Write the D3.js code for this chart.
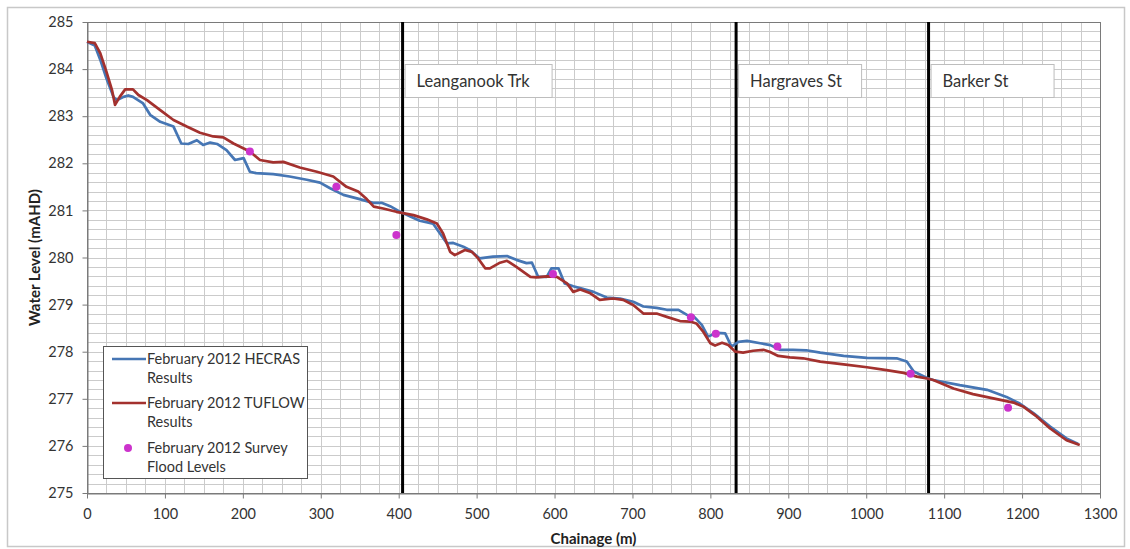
<!DOCTYPE html>
<html>
<head>
<meta charset="utf-8">
<script src="https://cdn.jsdelivr.net/npm/d3@7/dist/d3.min.js"></script>
<style>
  html, body { margin: 0; padding: 0; background: #fff; }
  svg { display: block; font-family: Lato, "Open Sans", sans-serif; }
</style>
</head>
<body>
<svg id="chart" width="1130" height="549"></svg>
<script>
// Modelled water surface profiles, February 2012 event: [chainage (m), level (mAHD)]
const hecras = [
  [0,284.58],[10,284.50],[17,284.20],[25,283.80],[34,283.41],[38,283.34],[47,283.41],[53,283.44],
  [59,283.41],[72,283.27],[81,283.03],[94,282.88],[111,282.78],[121,282.42],[130,282.41],[141,282.49],
  [149,282.39],[158,282.44],[167,282.41],[179,282.28],[190,282.07],[201,282.11],[209,281.82],[217,281.79],
  [239,281.77],[260,281.72],[282,281.65],[299,281.59],[312,281.47],[329,281.33],[350,281.24],[367,281.16],
  [378,281.16],[389,281.09],[402,280.97],[415,280.87],[427,280.78],[444,280.72],[453,280.51],[462,280.30],
  [470,280.31],[483,280.23],[491,280.16],[504,279.98],[521,280.02],[539,280.03],[551,279.95],[564,279.88],
  [571,279.89],[579,279.59],[590,279.59],[596,279.77],[605,279.77],[613,279.45],[624,279.39],[635,279.34],
  [650,279.27],[667,279.15],[684,279.13],[701,279.06],[714,278.96],[731,278.93],[744,278.89],[759,278.89],
  [770,278.78],[778,278.76],[789,278.57],[797,278.32],[808,278.40],[819,278.39],[827,278.11],[836,278.21],
  [847,278.23],[864,278.18],[877,278.14],[889,278.04],[906,278.04],[923,278.03],[941,277.98],[971,277.91],
  [1001,277.87],[1039,277.86],[1052,277.79],[1061,277.58],[1078,277.44],[1086,277.40],[1120,277.29],
  [1155,277.19],[1180,277.04],[1197,276.90],[1215,276.69],[1236,276.41],[1257,276.16],[1272,276.04]
];

const tuflow = [
  [0,284.58],[10,284.55],[17,284.34],[25,283.94],[32,283.56],[36,283.24],[42,283.41],[49,283.57],
  [59,283.57],[66,283.45],[77,283.34],[94,283.13],[111,282.92],[128,282.78],[145,282.65],[162,282.57],
  [175,282.55],[188,282.42],[209,282.25],[222,282.07],[239,282.02],[252,282.03],[273,281.91],[295,281.82],
  [316,281.72],[333,281.50],[348,281.40],[359,281.24],[368,281.08],[380,281.04],[397,280.97],[419,280.90],
  [436,280.81],[449,280.72],[457,280.51],[466,280.12],[472,280.05],[485,280.16],[494,280.12],[502,279.98],
  [511,279.77],[517,279.77],[530,279.89],[539,279.93],[551,279.80],[569,279.59],[577,279.58],[590,279.60],
  [603,279.59],[616,279.45],[624,279.27],[633,279.32],[646,279.24],[658,279.10],[675,279.13],[688,279.10],
  [701,278.99],[714,278.81],[731,278.81],[744,278.74],[761,278.65],[774,278.64],[782,278.60],[791,278.42],
  [800,278.18],[806,278.13],[815,278.19],[823,278.14],[832,278.00],[842,277.98],[855,278.02],[868,278.04],
  [876,278.00],[887,277.91],[902,277.88],[919,277.86],[941,277.79],[971,277.73],[1001,277.67],[1026,277.61],
  [1048,277.55],[1065,277.47],[1078,277.43],[1086,277.40],[1112,277.22],[1137,277.10],[1163,277.01],
  [1189,276.92],[1202,276.83],[1219,276.62],[1236,276.37],[1257,276.12],[1274,276.02]
];

// Surveyed flood marks
const survey = [
  [209,282.25],[320,281.50],[397,280.48],[598,279.65],[775,278.73],[807,278.38],[886,278.11],
  [1057,277.53],[1182,276.81]
];

// Road crossings along the reach
const crossingNames = ["Leanganook Trk", "Hargraves St", "Barker St"];
const crossingChainage = [405, 833, 1080];

// Axis ticks
const xTicks = [0,100,200,300,400,500,600,700,800,900,1000,1100,1200,1300];
const yTicks = [275,276,277,278,279,280,281,282,283,284,285];

const seriesNames = ["February 2012 HECRAS|Results", "February 2012 TUFLOW|Results", "February 2012 Survey|Flood Levels"];

// ---- layout ----
const plot = { left: 87, right: 1100, top: 22, bottom: 493 };
const colors = { hecras: "#4676b4", tuflow: "#a3312e", survey: "#cc33cc" };
const crossingBoxWidths = [147, 123, 123];

const svg = d3.select("#chart");

const x = d3.scaleLinear().domain([0, 1300]).range([plot.left, plot.right]);
const y = d3.scaleLinear().domain([275, 285]).range([plot.bottom, plot.top]);

// chart area frame
svg.append("rect")
  .attr("x", 7.5).attr("y", 7.5).attr("width", 1117).attr("height", 539)
  .attr("fill", "#fff").attr("stroke", "#c8c8c8").attr("stroke-width", 1.5);

// gridlines: every 25 m and every 0.2 m
const gx = d3.range(25, 1300, 25);
const gy = d3.range(275.2, 284.99, 0.2);
const grid = svg.append("g").attr("stroke", "#cbcbcb").attr("stroke-width", 1);
grid.selectAll("line.v").data(gx).join("line").attr("class", "v")
  .attr("x1", d => Math.round(x(d)) + 0.5).attr("x2", d => Math.round(x(d)) + 0.5)
  .attr("y1", plot.top).attr("y2", plot.bottom);
grid.selectAll("line.h").data(gy).join("line").attr("class", "h")
  .attr("y1", d => Math.round(y(d)) + 0.5).attr("y2", d => Math.round(y(d)) + 0.5)
  .attr("x1", plot.left).attr("x2", plot.right);

// plot frame
svg.append("rect")
  .attr("x", plot.left + 0.5).attr("y", plot.top + 0.5)
  .attr("width", plot.right - plot.left).attr("height", plot.bottom - plot.top)
  .attr("fill", "none").attr("stroke", "#7a7a7a").attr("stroke-width", 1);

// axes
const xAxis = d3.axisBottom(x).tickValues(xTicks).tickFormat(d3.format("d"))
  .tickSize(5).tickSizeOuter(0).tickPadding(10);
const yAxis = d3.axisLeft(y).tickValues(yTicks).tickFormat(d3.format("d"))
  .tickSize(5).tickSizeOuter(0).tickPadding(9);

const gX = svg.append("g").attr("transform", `translate(0,${plot.bottom + 0.5})`).call(xAxis);
const gY = svg.append("g").attr("transform", `translate(${plot.left + 0.5},0)`).call(yAxis);
[gX, gY].forEach(g => {
  g.select(".domain").attr("stroke", "#7a7a7a");
  g.selectAll(".tick line").attr("stroke", "#7a7a7a");
  g.selectAll(".tick text").attr("fill", "#333").style("font-size", "14.5px")
    .style("font-family", "Lato, sans-serif");
});

// axis titles
svg.append("text")
  .attr("x", (plot.left + plot.right) / 2).attr("y", 544)
  .attr("text-anchor", "middle").attr("font-weight", "bold").attr("font-size", 15)
  .attr("fill", "#222").text("Chainage (m)");
svg.append("text")
  .attr("transform", `translate(40,${(plot.top + plot.bottom) / 2}) rotate(-90)`)
  .attr("text-anchor", "middle").attr("font-weight", "bold").attr("font-size", 15)
  .attr("fill", "#222").text("Water Level (mAHD)");

// crossing markers
const crossings = crossingNames.map((n, i) => ({ name: n, ch: crossingChainage[i], w: crossingBoxWidths[i] }));
svg.append("g").selectAll("line").data(crossings).join("line")
  .attr("x1", d => x(d.ch)).attr("x2", d => x(d.ch))
  .attr("y1", plot.top).attr("y2", plot.bottom)
  .attr("stroke", "#000").attr("stroke-width", 3);

const boxes = svg.append("g").selectAll("g").data(crossings).join("g")
  .attr("transform", d => `translate(${x(d.ch) + 2},64)`);
boxes.append("rect").attr("x", 0.5).attr("y", 0.5).attr("width", d => d.w).attr("height", 33)
  .attr("fill", "#fff").attr("stroke", "#bdbdbd").attr("stroke-width", 1);
boxes.append("text").attr("x", 12).attr("y", 23).attr("font-size", 16.5)
  .attr("fill", "#333").text(d => d.name);

// profiles
const line = d3.line().x(d => x(d[0])).y(d => y(d[1]));
svg.append("path").datum(hecras).attr("d", line)
  .attr("fill", "none").attr("stroke", colors.hecras).attr("stroke-width", 2.7)
  .attr("stroke-linejoin", "round");
svg.append("path").datum(tuflow).attr("d", line)
  .attr("fill", "none").attr("stroke", colors.tuflow).attr("stroke-width", 2.7)
  .attr("stroke-linejoin", "round");

// survey marks
svg.append("g").selectAll("circle").data(survey).join("circle")
  .attr("cx", d => x(d[0])).attr("cy", d => y(d[1])).attr("r", 4)
  .attr("fill", colors.survey);

// legend
const legend = svg.append("g").attr("transform", "translate(103,346)");
legend.append("rect").attr("x", 0.5).attr("y", 0.5).attr("width", 204).attr("height", 132)
  .attr("fill", "#fff").attr("stroke", "#555").attr("stroke-width", 1);
const rowY = [13, 57, 102];
const symbols = ["hecras", "tuflow", "survey"];
seriesNames.forEach((name, i) => {
  const r = legend.append("g").attr("transform", `translate(0,${rowY[i]})`);
  if (symbols[i] === "survey") {
    r.append("circle").attr("cx", 25).attr("cy", 0).attr("r", 4).attr("fill", colors.survey);
  } else {
    r.append("line").attr("x1", 9).attr("x2", 43).attr("y1", 0).attr("y2", 0)
      .attr("stroke", colors[symbols[i]]).attr("stroke-width", 2.7);
  }
  const t = r.append("text").attr("x", 44).attr("y", 5).attr("font-size", 14.5).attr("fill", "#333");
  name.split("|").forEach((part, j) => {
    t.append("tspan").attr("x", 44).attr("dy", j === 0 ? 0 : 19).text(part);
  });
});
</script>
</body>
</html>
